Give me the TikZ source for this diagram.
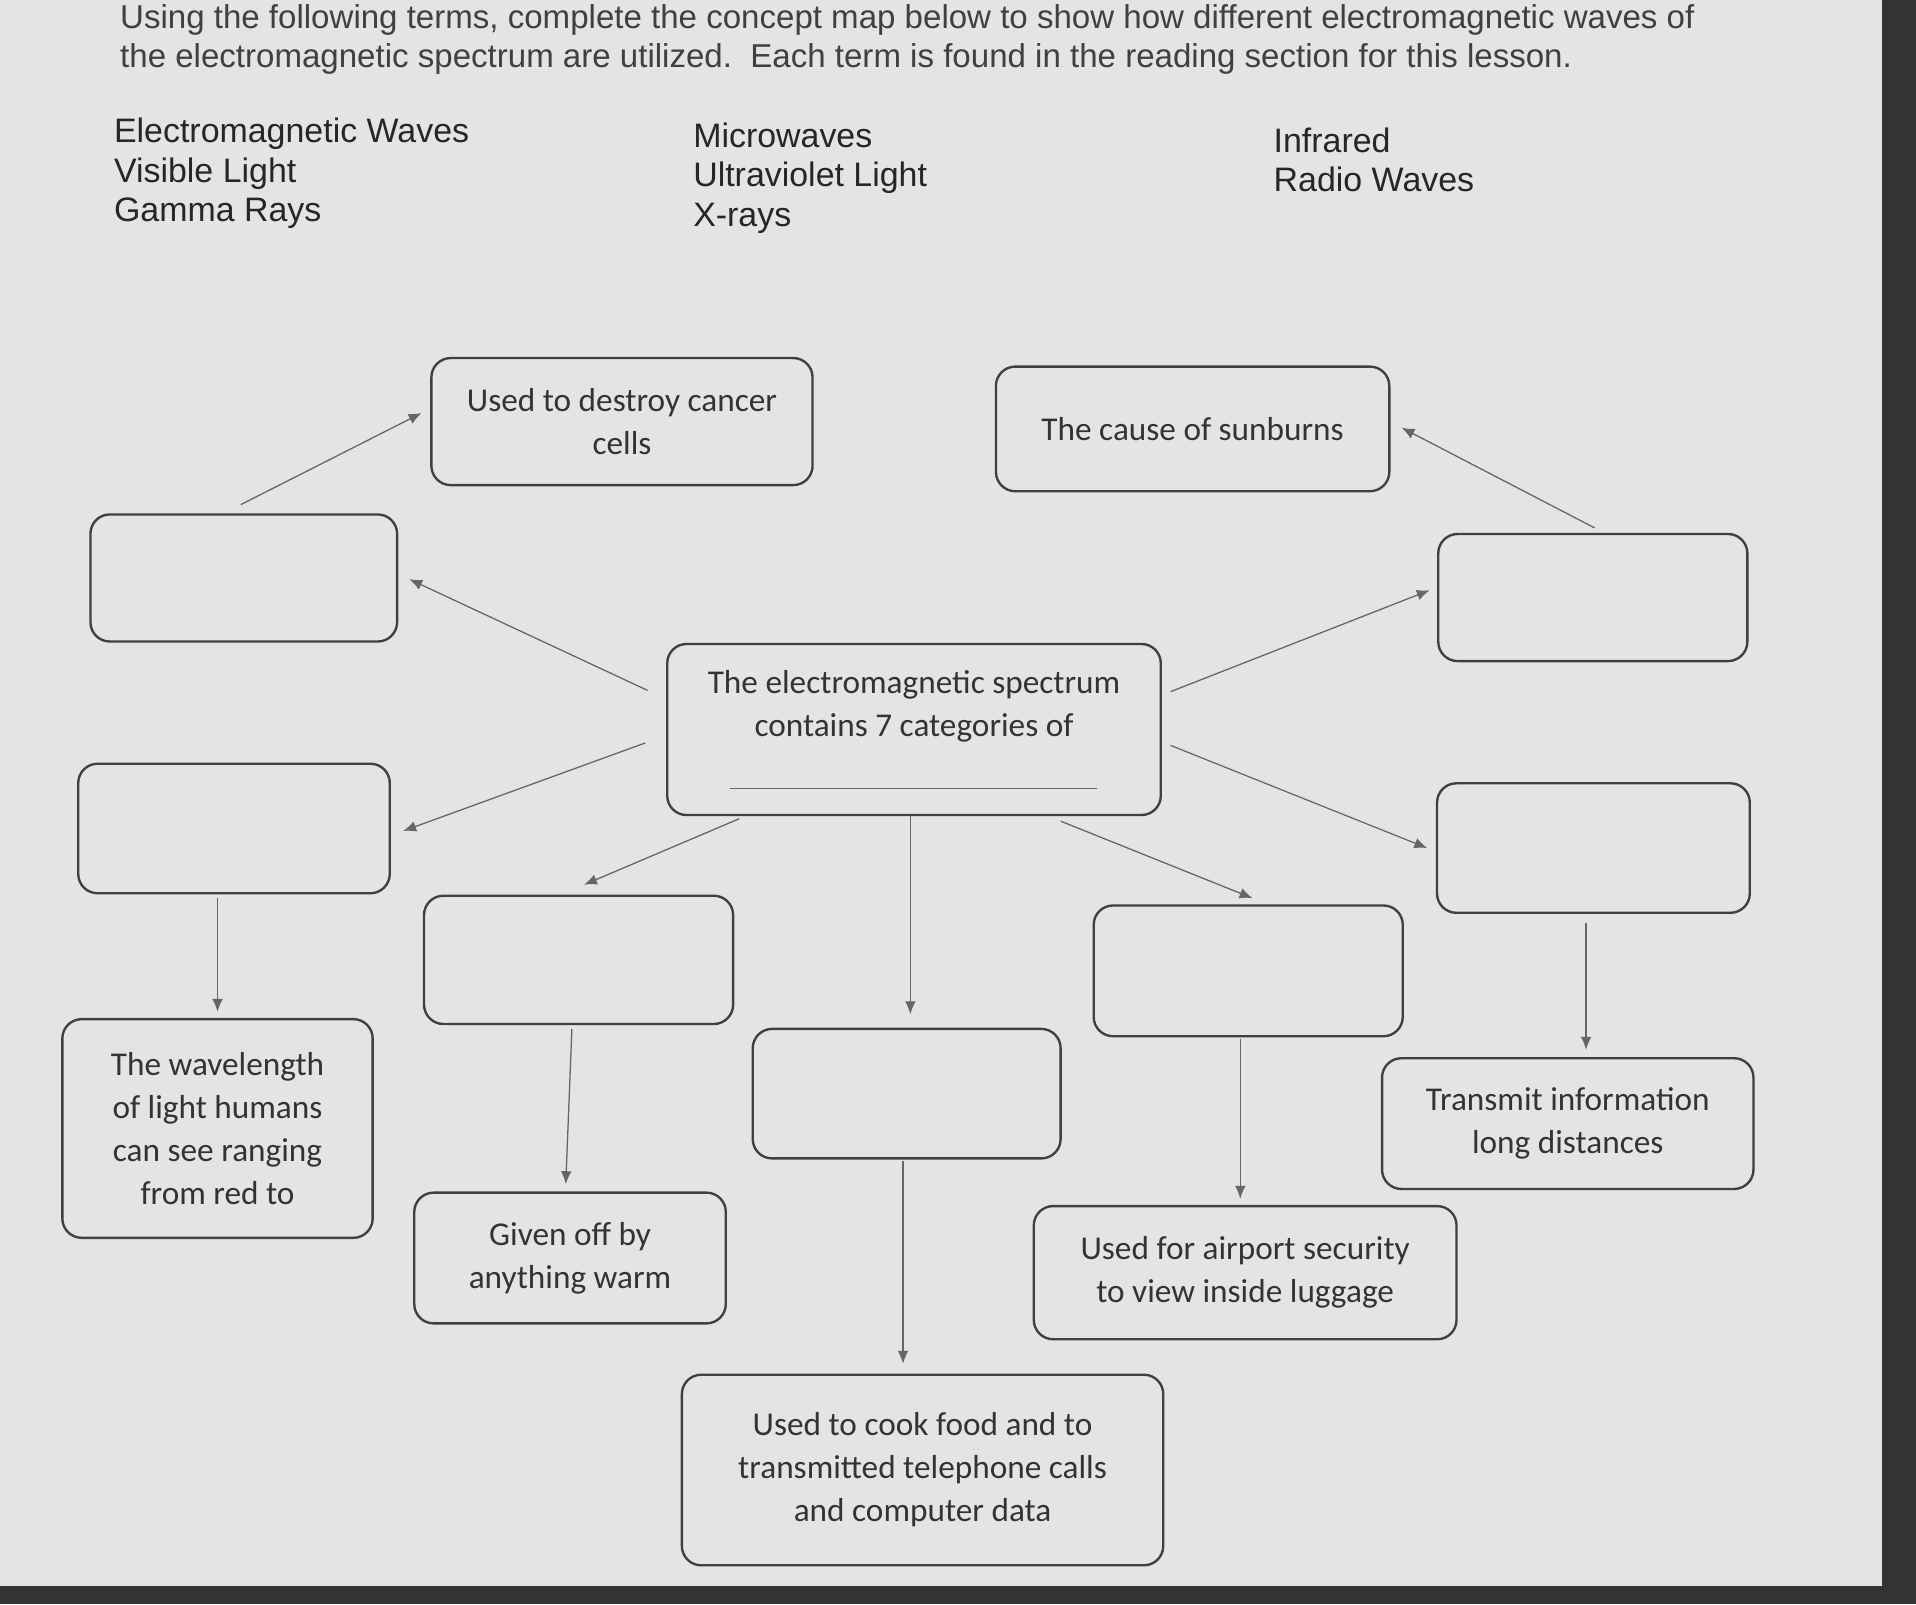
\documentclass[tikz,border=0pt]{standalone}
\usepackage{fontspec}
\setmainfont{Carlito}
\newfontfamily\hdr{Liberation Sans}
\usetikzlibrary{arrows.meta}
\definecolor{page}{HTML}{E4E4E2}
\tikzset{
 box/.style={draw=black!75,line width=1.1pt,rounded corners=9pt,fill=page,align=center,font=\fontsize{15.5}{20}\selectfont,text=black!80,inner sep=0pt},
 conn/.style={draw=black!60,line width=0.6pt,-{Latex[length=6pt,width=5pt]}},
 hd/.style={anchor=west,font=\hdr\fontsize{15.4}{17}\selectfont,text=black!75,inner sep=0pt},
 term/.style={anchor=north west,align=left,font=\hdr\fontsize{15.8}{18.5}\selectfont,text=black!85,inner sep=0pt}
}
\begin{document}
\begin{tikzpicture}[x=0.02cm,y=-0.02cm]
\useasboundingbox (0,0) rectangle (1568,1313);
\fill[page] (0,0) rectangle (1568,1313);
\fill[black!80] (1540,0) rectangle (1568,1313);
\fill[black!80] (0,1298) rectangle (1568,1313);
\node[hd] (h1) at (98,16) {Using the following terms, complete the concept map below to show how different electromagnetic waves of};
\node[hd] (h2) at (98,48) {the electromagnetic spectrum are utilized.\ \ Each term is found in the reading section for this lesson.};
\node[term] (t1) at (93,96) {Electromagnetic Waves\\Visible Light\\Gamma Rays};
\node[term] (t2) at (567,100) {Microwaves\\Ultraviolet Light\\X-rays};
\node[term] (t3) at (1042,104) {Infrared\\Radio Waves};

\node[box,minimum width=6.24cm,minimum height=2.08cm] (cancer) at (509,345) {Used to destroy cancer\\cells};
\node[box,minimum width=6.44cm,minimum height=2.04cm] (sun) at (976,351) {The cause of sunburns};
\node[box,minimum width=5.02cm,minimum height=2.08cm] (L1) at (199.5,473) {};
\node[box,minimum width=5.06cm,minimum height=2.08cm] (R1) at (1303.5,489) {};
\node[box,minimum width=8.08cm,minimum height=2.8cm] (C) at (748,597) {};
\node (ctext) at (748,578) [align=center,font=\fontsize{15.5}{20}\selectfont,text=black!80] {The electromagnetic spectrum\\contains 7 categories of};
\draw[black!60,line width=0.6pt] (597,645) -- (898,645);
\node[box,minimum width=5.1cm,minimum height=2.12cm] (L2) at (191.5,678) {};
\node[box,minimum width=5.06cm,minimum height=2.1cm] (CL) at (473.5,785.5) {};
\node[box,minimum width=5.06cm,minimum height=2.14cm] (CR) at (1021.5,794.5) {};
\node[box,minimum width=5.12cm,minimum height=2.12cm] (R2) at (1304,694) {};
\node[box,minimum width=5.04cm,minimum height=2.12cm] (M) at (742,895) {};
\node[box,minimum width=5.08cm,minimum height=3.58cm] (wave) at (178,923.5) {The wavelength\\of light humans\\can see ranging\\from red to};
\node[box,minimum width=5.1cm,minimum height=2.14cm] (given) at (466.5,1029.5) {Given off by\\anything warm};
\node[box,minimum width=6.08cm,minimum height=2.14cm] (trans) at (1283,919.5) {Transmit information\\long distances};
\node[box,minimum width=6.92cm,minimum height=2.18cm] (air) at (1019,1041.5) {Used for airport security\\to view inside luggage};
\node[box,minimum width=7.88cm,minimum height=3.12cm] (cook) at (755,1203) {Used to cook food and to\\transmitted telephone calls\\and computer data};

\coordinate (a1s) at (197,413); \coordinate (a1e) at (345,338);
\coordinate (a2s) at (530,565); \coordinate (a2e) at (335,474);
\coordinate (a3s) at (528,608); \coordinate (a3e) at (330,680);
\coordinate (a4s) at (605,670); \coordinate (a4e) at (478,724);
\coordinate (a5s) at (745,668); \coordinate (a5e) at (745,830);
\coordinate (a6s) at (868,672); \coordinate (a6e) at (1025,735);
\coordinate (a7s) at (958,610); \coordinate (a7e) at (1168,694);
\coordinate (a8s) at (958,566); \coordinate (a8e) at (1170,483);
\coordinate (a9s) at (1305,432); \coordinate (a9e) at (1147,350);
\coordinate (b1s) at (178,735); \coordinate (b1e) at (178,828);
\coordinate (b2s) at (468,842); \coordinate (b2e) at (463,969);
\coordinate (b3s) at (1015,850); \coordinate (b3e) at (1015,981);
\coordinate (b4s) at (1298,755); \coordinate (b4e) at (1298,859);
\coordinate (b5s) at (739,950); \coordinate (b5e) at (739,1116);
\foreach \s/\e in {a1s/a1e,a2s/a2e,a3s/a3e,a4s/a4e,a5s/a5e,a6s/a6e,a7s/a7e,a8s/a8e,a9s/a9e,b1s/b1e,b2s/b2e,b3s/b3e,b4s/b4e,b5s/b5e}
  \draw[conn] (\s) -- (\e);
\end{tikzpicture}
\end{document}
